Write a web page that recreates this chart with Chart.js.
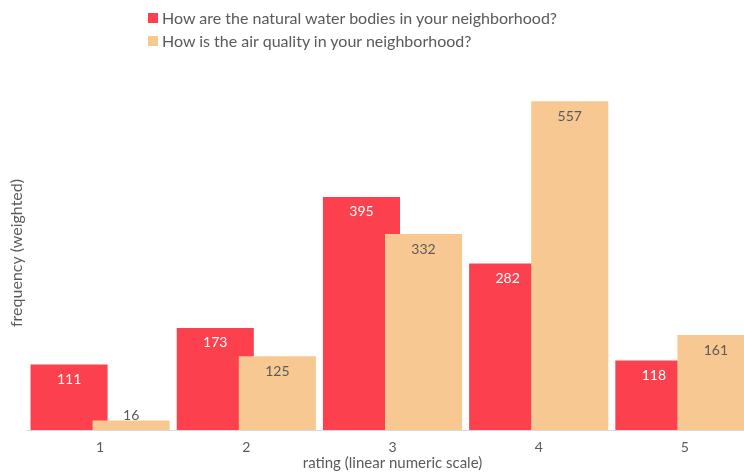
<!DOCTYPE html>
<html>
<head>
<meta charset="utf-8">
<script src="https://cdn.jsdelivr.net/npm/chart.js@4.4.1/dist/chart.umd.min.js"></script>
<style>
  html, body { margin: 0; padding: 0; background: #fff; overflow: hidden; }
  #wrap { position: relative; width: 758px; height: 472px; }
  #legend { position: absolute; left: 148px; top: 6px; font-family: Lato, sans-serif; font-size: 16px; color: #5a5a5a; }
  #legend .item { display: flex; align-items: center; height: 23px; white-space: nowrap; }
  #legend .box { width: 10px; height: 10px; margin-right: 4px; }
</style>
</head>
<body>
<div id="wrap">
  <div id="legend"></div>
  <canvas id="chart" width="758" height="472"></canvas>
</div>
<script>
var ratings = ['1', '2', '3', '4', '5'];
var waterLabel = 'How are the natural water bodies in your neighborhood?';
var airLabel = 'How is the air quality in your neighborhood?';
var waterCounts = [111, 173, 395, 282, 118];
var airCounts = [16, 125, 332, 557, 161];

var RED = '#fc404d';
var PEACH = '#f8c892';
var GREY = '#5a5a5a';
var FONT = 'Lato, sans-serif';

/* html legend, both rows start at the same x */
function buildLegend(datasets) {
  var el = document.getElementById('legend');
  datasets.forEach(function (ds) {
    var row = document.createElement('div');
    row.className = 'item';
    var box = document.createElement('span');
    box.className = 'box';
    box.style.background = ds.backgroundColor;
    row.appendChild(box);
    row.appendChild(document.createTextNode(ds.label));
    el.appendChild(row);
  });
}

/* draw the water series first so the air bars sit over it */
var drawOrder = {
  id: 'drawOrder',
  beforeDatasetsDraw: function (chart) {
    var ctx = chart.ctx, a = chart.chartArea;
    ctx.save();
    ctx.beginPath();
    ctx.rect(a.left, 0, a.right - a.left, a.bottom);
    ctx.clip();
    chart.data.datasets.forEach(function (ds, i) {
      chart.getDatasetMeta(i).controller.draw();
    });
    ctx.restore();
    return false;
  }
};

/* value labels inside the top of each bar */
var valueLabels = {
  id: 'valueLabels',
  afterDraw: function (chart) {
    var ctx = chart.ctx;
    ctx.save();
    ctx.font = '14px ' + FONT;
    ctx.textAlign = 'center';
    ctx.textBaseline = 'middle';
    chart.data.datasets.forEach(function (ds, i) {
      chart.getDatasetMeta(i).data.forEach(function (bar, j) {
        var h = bar.base - bar.y;
        if (h > 30) {
          ctx.fillStyle = i === 0 ? '#ffffff' : GREY;
          ctx.fillText(ds.data[j], bar.x, bar.y + 15);
        } else {
          ctx.fillStyle = GREY;
          ctx.fillText(ds.data[j], bar.x, bar.y - 5);
        }
      });
    });
    ctx.restore();
  }
};

var datasets = [
  { label: waterLabel, data: waterCounts, backgroundColor: RED },
  { label: airLabel, data: airCounts, backgroundColor: PEACH }
];

buildLegend(datasets);

new Chart(document.getElementById('chart'), {
  type: 'bar',
  data: { labels: ratings, datasets: datasets },
  options: {
    responsive: false,
    animation: false,
    categoryPercentage: 0.849,
    barPercentage: 1.242,
    layout: { padding: { top: 76, left: 0, right: 0, bottom: 0 } },
    plugins: { legend: { display: false }, tooltip: { enabled: false } },
    scales: {
      x: {
        afterFit: function (scale) { scale.height = 42; },
        grid: { display: false, drawTicks: false },
        border: { color: '#d9d9d9' },
        ticks: { color: GREY, font: { family: FONT, size: 14, lineHeight: 1 }, padding: 10 },
        title: { display: true, text: 'rating (linear numeric scale)', color: GREY,
                 font: { family: FONT, size: 15, lineHeight: 1 }, padding: { top: 0.5, bottom: 1.5 } }
      },
      y: {
        min: 0,
        max: 600,
        afterFit: function (scale) { scale.width = 27; },
        grid: { display: false, drawTicks: false },
        border: { display: false },
        ticks: { display: false },
        title: { display: true, text: 'frequency (weighted)', color: GREY,
                 font: { family: FONT, size: 16, lineHeight: 1 }, padding: { top: 9, bottom: 2 } }
      }
    }
  },
  plugins: [drawOrder, valueLabels]
});
</script>
</body>
</html>
